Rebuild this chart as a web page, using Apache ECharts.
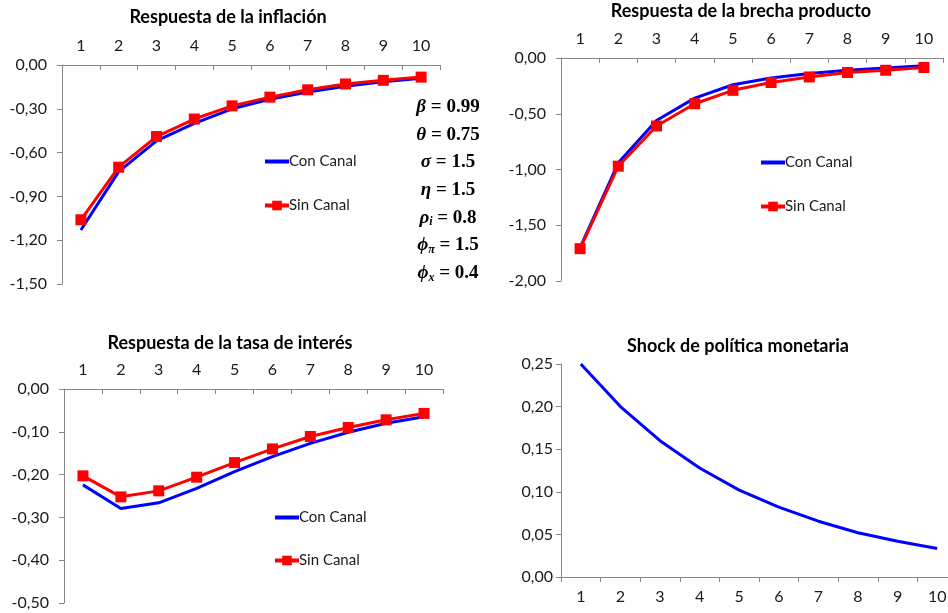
<!DOCTYPE html>
<html>
<head>
<meta charset="utf-8">
<script src="https://cdn.jsdelivr.net/npm/echarts@6/dist/echarts.min.js"></script>
<style>
html,body{margin:0;padding:0;background:#fff;overflow:hidden;}
#c{width:948px;height:613px;}
</style>
</head>
<body>
<div id="c"></div>
<script>
var periods = ['1','2','3','4','5','6','7','8','9','10'];

var inflacionCon = [-1.13, -0.73, -0.52, -0.40, -0.30, -0.235, -0.185, -0.145, -0.115, -0.09];
var inflacionSin = [-1.06, -0.70, -0.49, -0.37, -0.28, -0.22, -0.17, -0.13, -0.105, -0.083];

var brechaCon = [-1.70, -0.94, -0.56, -0.36, -0.24, -0.18, -0.14, -0.11, -0.09, -0.07];
var brechaSin = [-1.71, -0.97, -0.61, -0.41, -0.29, -0.22, -0.17, -0.13, -0.11, -0.085];

var tasaCon = [-0.224, -0.279, -0.266, -0.232, -0.193, -0.158, -0.127, -0.101, -0.080, -0.065];
var tasaSin = [-0.203, -0.252, -0.238, -0.206, -0.172, -0.140, -0.111, -0.090, -0.072, -0.057];

var shock = [0.25, 0.20, 0.16, 0.128, 0.102, 0.082, 0.0655, 0.052, 0.042, 0.0335];

var titles = ['Respuesta de la inflación', 'Respuesta de la brecha producto',
              'Respuesta de la tasa de interés', 'Shock de política monetaria'];

var chart = echarts.init(document.getElementById('c'));
var FONT = 'Lato';
var AX = '#868686';
var TXT = '#1a1a1a';

function fmt(v){ return v.toFixed(2).replace('.', ','); }

function xAxis(idx, top){
  return {
    type: 'category', gridIndex: idx, data: periods, position: top ? 'top' : 'bottom',
    boundaryGap: true,
    axisLine: {lineStyle: {color: AX, width: 1}},
    axisTick: {show: true, inside: top, length: 5, lineStyle: {color: AX}},
    axisLabel: {color: TXT, fontFamily: FONT, fontSize: 16, margin: top ? 11 : 12},
    splitLine: {show: false}
  };
}
function yAxis(idx, min, max, interval, margin){
  return {
    type: 'value', gridIndex: idx, min: min, max: max, interval: interval,
    axisLine: {show: true, lineStyle: {color: AX, width: 1}},
    axisTick: {show: true, inside: false, length: 5, lineStyle: {color: AX}},
    axisLabel: {color: TXT, fontFamily: FONT, fontSize: 16, margin: margin, formatter: fmt},
    splitLine: {show: false}
  };
}
function conSeries(idx, data){
  return {name: 'Con Canal', type: 'line', xAxisIndex: idx, yAxisIndex: idx, data: data,
    symbol: 'none', lineStyle: {color: '#0000ff', width: 3}, itemStyle: {color: '#0000ff'},
    z: 2, animation: false};
}
function sinSeries(idx, data){
  return {name: 'Sin Canal', type: 'line', xAxisIndex: idx, yAxisIndex: idx, data: data,
    symbol: 'rect', symbolSize: 11, showSymbol: true,
    lineStyle: {color: '#ff0000', width: 3}, itemStyle: {color: '#ff0000'},
    z: 3, animation: false};
}
function legend(left, top, gap){
  return {
    left: left, top: top, orient: 'vertical', itemGap: gap, padding: 0,
    itemWidth: 24, itemHeight: 12, selectedMode: false,
    textStyle: {color: TXT, fontFamily: FONT, fontSize: 15, padding: [0,0,0,-5]},
    data: [
      {name: 'Con Canal', itemStyle: {opacity: 0}, lineStyle: {width: 4}},
      {name: 'Sin Canal', lineStyle: {width: 4}}
    ]
  };
}
function titleAt(i, x, y){
  return {text: titles[i], left: x, top: y, textAlign: 'center', padding: 0,
    textStyle: {fontFamily: FONT, fontWeight: 'bold', fontSize: 18, color: '#000'}};
}

var params = [
  ['β', '', '= 0.99'],
  ['θ', '', '= 0.75'],
  ['σ', '', '= 1.5'],
  ['η', '', '= 1.5'],
  ['ρ', 'i', '= 0.8'],
  ['ϕ', 'π', '= 1.5'],
  ['ϕ', 'x', '= 0.4']
];
var rich = {
  g: {fontFamily: 'Liberation Serif', fontStyle: 'italic', fontWeight: 'bold', fontSize: 19, color: '#000'},
  s: {fontFamily: 'Liberation Serif', fontStyle: 'italic', fontWeight: 'bold', fontSize: 12, color: '#000', padding: [9,0,0,0]},
  n: {fontFamily: 'Liberation Serif', fontWeight: 'bold', fontSize: 19, color: '#000'}
};
var graphics = params.map(function(p, i){
  var t = '{g|' + p[0] + '}' + (p[1] ? '{s|' + p[1] + '}' : '') + '{n| ' + p[2] + '}';
  return {type: 'text', x: 448, y: 107 + i * 27.7, style: {text: t, rich: rich, align: 'center', verticalAlign: 'middle'}};
});

chart.setOption({
  animation: false,
  backgroundColor: '#fff',
  title: [titleAt(0, 228, 8), titleAt(1, 741, 2), titleAt(2, 230, 334), titleAt(3, 738, 337)],
  grid: [
    {left: 62, top: 65, width: 378, height: 219, outerBoundsMode: 'none', containLabel: false},
    {left: 561, top: 58, width: 382, height: 223, outerBoundsMode: 'none', containLabel: false},
    {left: 64, top: 389, width: 379, height: 214, outerBoundsMode: 'none', containLabel: false},
    {left: 561, top: 364, width: 396, height: 213, outerBoundsMode: 'none', containLabel: false}
  ],
  xAxis: [xAxis(0, true), xAxis(1, true), xAxis(2, true), xAxis(3, false)],
  yAxis: [
    yAxis(0, -1.5, 0, 0.3, 15),
    yAxis(1, -2, 0, 0.5, 15),
    yAxis(2, -0.5, 0, 0.1, 15),
    yAxis(3, 0, 0.25, 0.05, 8)
  ],
  legend: [legend(263, 154, 29), legend(759, 155, 29), legend(273, 510, 28)],
  series: [
    conSeries(0, inflacionCon), sinSeries(0, inflacionSin),
    conSeries(1, brechaCon), sinSeries(1, brechaSin),
    conSeries(2, tasaCon), sinSeries(2, tasaSin),
    {name: 'Shock', type: 'line', xAxisIndex: 3, yAxisIndex: 3, data: shock, symbol: 'none',
     lineStyle: {color: '#0000ff', width: 3}, itemStyle: {color: '#0000ff'}, animation: false}
  ],
  graphic: graphics
});
</script>
</body>
</html>
